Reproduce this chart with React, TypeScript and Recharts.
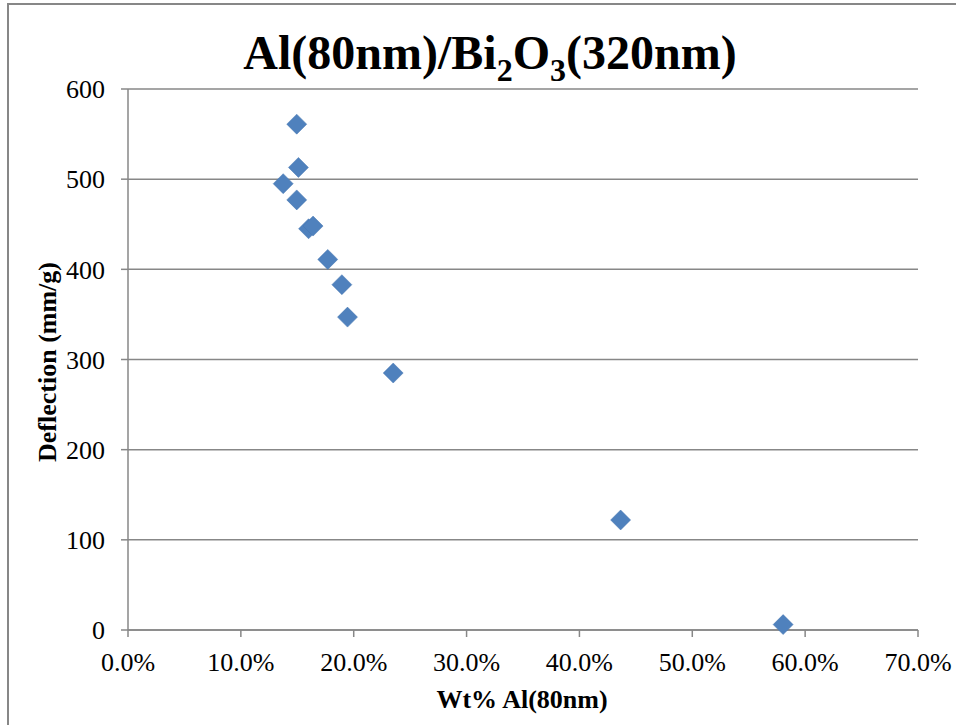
import { CartesianGrid, Scatter, ScatterChart, XAxis, YAxis } from "recharts";

// Wt% Al(80nm) vs deflection
const wtPct = [14.95, 15.1, 13.75, 14.95, 16.0, 16.4, 17.7, 18.95, 19.45, 23.5, 43.65, 58.05];
const deflection = [561, 513, 495, 477, 445, 448, 411, 383, 347, 285, 122, 6];

const xTicks = [0, 10, 20, 30, 40, 50, 60, 70];
const yTicks = [0, 100, 200, 300, 400, 500, 600];

const data = wtPct.map((x, i) => ({ x, y: deflection[i] }));

const FONT = "'Liberation Serif', 'Times New Roman', serif";
const GRAY = "#878787";
const BLUE = "#4F81BD";

function Diamond(props: any) {
  const { cx, cy } = props;
  if (cx == null || cy == null) return null;
  const r = 10;
  return (
    <polygon
      points={`${cx},${cy - r} ${cx + r},${cy} ${cx},${cy + r} ${cx - r},${cy}`}
      fill={BLUE}
      stroke="#4676b0"
      strokeWidth={0.5}
    />
  );
}

export default function App() {
  return (
    <div
      style={{
        position: "absolute",
        left: 0,
        top: 0,
        width: 956,
        height: 725,
        overflow: "hidden",
        background: "#fff",
      }}
    >
      <div
        style={{
          position: "absolute",
          left: 7,
          top: 3,
          width: 1000,
          height: 800,
          borderTop: `2px solid ${GRAY}`,
          borderLeft: `2px solid ${GRAY}`,
        }}
      />
      <ScatterChart width={956} height={725} margin={{ top: 89, right: 38, bottom: 0, left: 28 }}>
        <CartesianGrid vertical={false} stroke={GRAY} strokeWidth={1.5} />
        <XAxis
          type="number"
          dataKey="x"
          domain={[0, 70]}
          ticks={xTicks}
          interval={0}
          height={95}
          tickFormatter={(v: number) => `${v.toFixed(1)}%`}
          axisLine={{ stroke: GRAY, strokeWidth: 1.5 }}
          tickLine={{ stroke: GRAY, strokeWidth: 1.5 }}
          tickSize={7}
          tickMargin={16}
          tick={{ fill: "#000", fontSize: 26, fontFamily: FONT }}
        />
        <YAxis
          type="number"
          dataKey="y"
          domain={[0, 600]}
          ticks={yTicks}
          interval={0}
          width={100}
          axisLine={{ stroke: GRAY, strokeWidth: 1.5 }}
          tickLine={{ stroke: GRAY, strokeWidth: 1.5 }}
          tickSize={7}
          tickMargin={16}
          tick={{ fill: "#000", fontSize: 26, fontFamily: FONT }}
        />
        <Scatter data={data} fill={BLUE} shape={<Diamond />} isAnimationActive={false} />
      </ScatterChart>
      <svg
        width={956}
        height={725}
        style={{ position: "absolute", left: 0, top: 0, pointerEvents: "none" }}
      >
        <text x={490} y={69} textAnchor="middle" fontFamily={FONT} fontWeight="bold" fontSize={48} fill="#000">
          Al(80nm)/Bi
          <tspan dy={12} fontSize={32}>2</tspan>
          <tspan dy={-12}>O</tspan>
          <tspan dy={12} fontSize={32}>3</tspan>
          <tspan dy={-12}>(320nm)</tspan>
        </text>
        <text x={522} y={708} textAnchor="middle" fontFamily={FONT} fontWeight="bold" fontSize={26} fill="#000">
          Wt% Al(80nm)
        </text>
        <text
          x={56}
          y={362}
          textAnchor="middle"
          fontFamily={FONT}
          fontWeight="bold"
          fontSize={26}
          fill="#000"
          transform="rotate(-90 56 362)"
        >
          Deflection (mm/g)
        </text>
      </svg>
    </div>
  );
}
